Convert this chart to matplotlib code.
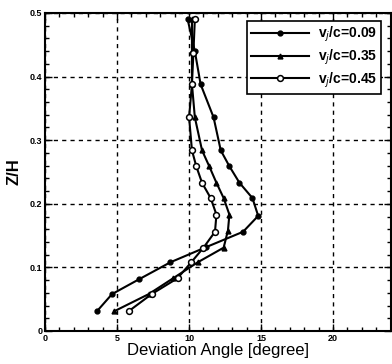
import numpy as np
import matplotlib
matplotlib.use("Agg")
import matplotlib.pyplot as plt
from matplotlib.ticker import MultipleLocator

plt.rcParams['font.family'] = ['Liberation Sans', 'DejaVu Sans']

# deviation angle [deg] vs z/H for three jet velocity ratios
z_09 = [0.031, 0.058, 0.081, 0.108, 0.132, 0.156, 0.181, 0.209, 0.233, 0.259, 0.284, 0.336, 0.388, 0.44, 0.49]
a_09 = [3.6, 4.65, 6.5, 8.7, 11.2, 13.75, 14.8, 14.4, 13.5, 12.8, 12.2, 11.7, 10.8, 10.4, 9.9]

z_35 = [0.031, 0.058, 0.083, 0.108, 0.131, 0.158, 0.183, 0.209, 0.233, 0.259, 0.284, 0.336, 0.388, 0.44, 0.49]
a_35 = [4.8, 7.2, 8.9, 10.6, 12.4, 12.7, 12.8, 12.4, 11.9, 11.4, 10.9, 10.4, 10.2, 10.2, 10.2]

z_45 = [0.031, 0.058, 0.083, 0.108, 0.131, 0.156, 0.183, 0.209, 0.233, 0.259, 0.284, 0.336, 0.388, 0.437, 0.49]
a_45 = [5.8, 7.4, 9.2, 10.15, 11.0, 11.8, 11.9, 11.5, 10.9, 10.5, 10.2, 10.0, 10.2, 10.3, 10.4]

labels = ['v$_j$/c=0.09', 'v$_j$/c=0.35', 'v$_j$/c=0.45']

fig = plt.figure(figsize=(3.92, 3.64), dpi=100)
ax = fig.add_axes([0.115, 0.0907, 0.8816, 0.8736])

ax.plot(a_09, z_09, '-o', color='k', lw=1.5, ms=3.5, mfc='k', label=labels[0])
ax.plot(a_35, z_35, '-^', color='k', lw=1.5, ms=3.5, mfc='k', label=labels[1])
ax.plot(a_45, z_45, '-o', color='k', lw=1.5, ms=4.2, mfc='white', mew=1.1, label=labels[2])

ax.set_xlim(0, 24)
ax.set_ylim(0, 0.5)
ax.xaxis.set_minor_locator(MultipleLocator(1))
ax.yaxis.set_minor_locator(MultipleLocator(0.02))
ax.tick_params(which='both', direction='in', top=True, right=True, width=1, labelsize=6.5, pad=2)
ax.tick_params(which='major', length=5)
ax.tick_params(which='minor', length=3)
ax.set_xticks([0, 5, 10, 15, 20])
ax.set_xticklabels(['0', '5', '10', '15', '20'], fontweight='bold')
ax.set_yticks([0, 0.1, 0.2, 0.3, 0.4, 0.5])
ax.set_yticklabels(['0', '0.1', '0.2', '0.3', '0.4', '0.5'], fontweight='bold')
for s in ax.spines.values():
    s.set_linewidth(1.5)

ax.grid(True, which='major', color='k', linestyle=(0, (3, 3)), lw=1)

ax.set_xlabel('Deviation Angle [degree]', fontsize=12, labelpad=0)
ax.set_ylabel('Z/H', fontsize=12, fontweight='bold', labelpad=6)

leg = ax.legend(loc='upper right', bbox_to_anchor=(0.98, 0.985), fontsize=10,
                frameon=True, fancybox=False, edgecolor='k', framealpha=1,
                handlelength=4.2, borderpad=0.3, labelspacing=0.25, handletextpad=0.6,
                borderaxespad=0.2)
leg.get_frame().set_linewidth(1.2)
for t in leg.get_texts():
    t.set_fontweight('bold')

fig.savefig('out.png', dpi=100)
